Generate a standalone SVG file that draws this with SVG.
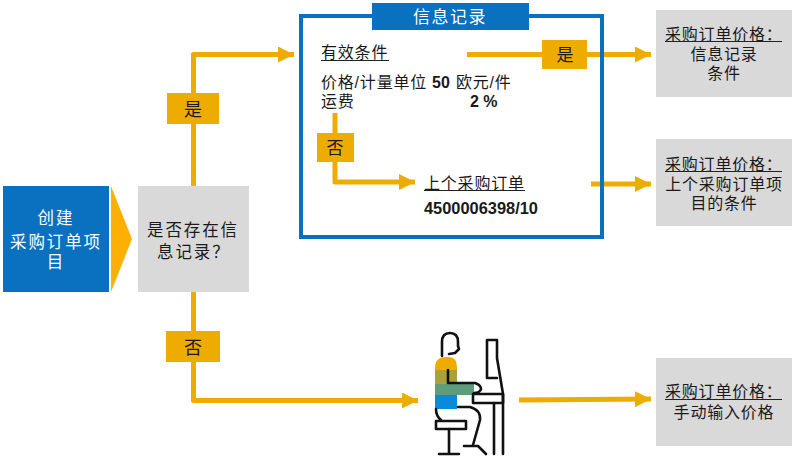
<svg xmlns="http://www.w3.org/2000/svg" width="799" height="460" viewBox="0 0 799 460">
<defs>
<style>
text{font-family:"Liberation Sans","Noto Sans CJK SC",sans-serif;fill:#1a1a1a;font-size:16px;letter-spacing:.8px}
.c{text-anchor:middle}
.w{fill:#fff}
.b{font-weight:bold;letter-spacing:0}
.big{font-size:16.500px;letter-spacing:1.900px}
.lab{font-size:18px;letter-spacing:0}
.g{fill:#d9d9d9}
.o{fill:#eeab00}
.bl{fill:#0a70c0}
.l{fill:none;stroke:#eeab00;stroke-width:5;stroke-linejoin:round}
.u{stroke:#222;stroke-width:1;fill:none}
.k{fill:none;stroke:#111;stroke-width:2.600;stroke-linejoin:round;stroke-linecap:round}
</style>
<marker id="ah" markerUnits="userSpaceOnUse" markerWidth="16" markerHeight="16" refX="16" refY="8" orient="auto"><path d="M0 0L16 8L0 16Z" fill="#eeab00"/></marker>
</defs>
<rect width="799" height="460" fill="#fff"/>
<g id="connectors">
<path class="l" d="M193.500 186V54.500H294" marker-end="url(#ah)"/>
<path class="l" d="M467 54.500H651" marker-end="url(#ah)"/>
<path class="l" d="M335 113V182H415" marker-end="url(#ah)"/>
<path class="l" d="M591 184H651" marker-end="url(#ah)"/>
<path class="l" d="M193.500 292V400.500H418" marker-end="url(#ah)"/>
<path class="l" d="M519 400L651 399" marker-end="url(#ah)"/>
</g>
<g id="node-create">
<rect class="bl" x="3" y="186" width="106" height="106"/>
<path d="M111 186L132 239L111 292Z" fill="#fdb000"/>
<text class="c w big" x="56" y="224">创建</text>
<text class="c w big" x="56" y="248">采购订单项</text>
<text class="c w big" x="56" y="268">目</text>
</g>
<g id="node-check">
<rect class="g" x="138" y="186" width="111" height="106"/>
<text class="big" x="147" y="236">是否存在信</text>
<text class="big" x="157" y="258">息记录？</text>
</g>
<g id="label-yes1"><rect class="o" x="167" y="93" width="52" height="31"/><text class="c lab" x="193" y="116">是</text></g>
<g id="label-no1"><rect class="o" x="166" y="331" width="54" height="31"/><text class="c lab" x="193" y="354">否</text></g>
<g id="node-inforecord">
<rect x="301" y="16" width="301" height="221" fill="none" stroke="#0a70c0" stroke-width="4"/>
<rect class="bl" x="372" y="3" width="157" height="27"/>
<text class="c w" x="450" y="23" style="font-size:17px;letter-spacing:1.500px">信息记录</text>
<text x="321" y="58">有效条件</text>
<path class="u" d="M321 60.500H389"/>
<text x="321" y="88">价格/计量单位</text>
<text class="b" x="432" y="88">50</text>
<text x="456" y="88">欧元/件</text>
<text x="321" y="107">运费</text>
<text class="b" x="470" y="107">2 %</text>
<text x="424" y="189">上个采购订单</text>
<path class="u" d="M424 190.500H525"/>
<text class="b" x="424" y="214" style="font-size:16.400px">4500006398/10</text>
</g>
<g id="label-yes2"><rect class="o" x="542" y="40" width="45" height="29"/><text class="c lab" style="font-size:17px" x="565" y="61">是</text></g>
<g id="label-no2"><rect class="o" x="317" y="133" width="37" height="29"/><text class="c lab" style="font-size:17px" x="335" y="154">否</text></g>
<g id="node-price1">
<rect class="g" x="656" y="10" width="136" height="87"/>
<text x="665" y="40">采购订单价格：</text>
<path class="u" d="M665 41.500H782"/>
<text class="c" x="724" y="60">信息记录</text>
<text class="c" x="724" y="79">条件</text>
</g>
<g id="node-price2">
<rect class="g" x="656" y="139" width="136" height="87"/>
<text x="665" y="170">采购订单价格：</text>
<path class="u" d="M665 171.500H782"/>
<text class="c" x="724" y="190">上个采购订单项</text>
<text class="c" x="724" y="209">目的条件</text>
</g>
<g id="node-price3">
<rect class="g" x="656" y="358" width="136" height="88"/>
<text x="665" y="397">采购订单价格：</text>
<path class="u" d="M665 399.500H782"/>
<text class="c" x="724" y="418">手动输入价格</text>
</g>
<g id="node-person">
<path d="M435 368Q435 357 446 357H449Q457 357 457 368V370H435Z" fill="#eeab00"/>
<rect x="435" y="370" width="22" height="14" fill="#a8a23e"/>
<rect x="435" y="384" width="39" height="11" fill="#5d9d7c"/>
<rect x="435" y="395" width="22" height="14" fill="#0a8ad8"/>
<path class="k" d="M442 356V342Q442 333 450 333Q458 333 458 342V346L459 349L455 353L449 354"/>
<path class="k" d="M448 370V383H475Q481 385 481 389Q480 393 474 393"/>
<path class="k" d="M436 409Q436 416 441 420M458 407H470Q481 410 480 420L473 445"/>
<path class="k" d="M436 421H466V429H436Z"/>
<path class="k" d="M449 429V454M439 454H459"/>
<path class="k" d="M464 446H478L486 454"/>
<path class="k" d="M473 394H503V403H473Z"/>
<path class="k" d="M487 340H497V358L503 394V454M487 340V378H497M494 403V454"/>
</g>
</svg>
